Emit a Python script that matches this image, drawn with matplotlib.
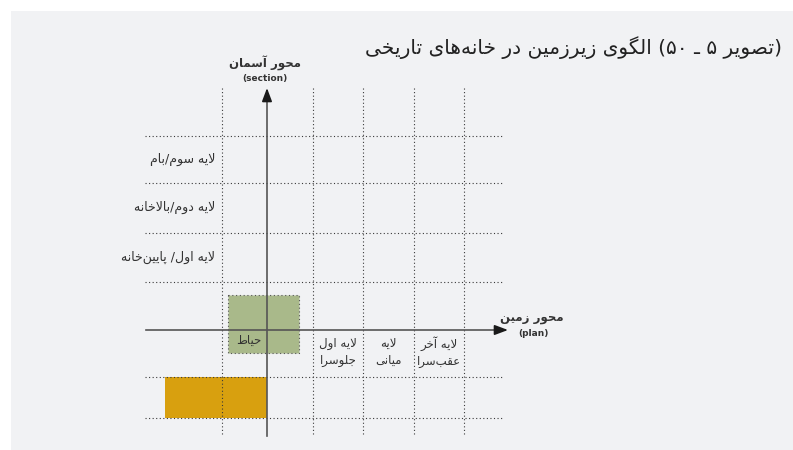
import matplotlib
matplotlib.use("Agg")
import matplotlib.pyplot as plt
from matplotlib.patches import Rectangle

# ---- diagram data (pixel coordinates of the 793x450 picture) ----
title = "(تصویر ۵ ـ ۵۰) الگوی زیرزمین در خانه\u200cهای تاریخی"
y_axis_name = "محور آسمان"
y_axis_sub = "(section)"
x_axis_name = "محور زمین"
x_axis_sub = "(plan)"

row_labels = ["لایه سوم/بام", "لایه دوم/بالاخانه", "لایه اول/ پایین\u200cخانه"]
row_label_y = [159, 207, 257]

col_labels = ["لایه اول\nجلوسرا", "لایه\nمیانی", "لایه آخر\nعقب\u200cسرا"]
col_label_x = [338, 388, 439]

grid_x = [222, 313, 363, 414, 464]
grid_y = [136, 183, 233, 282, 377, 418]
grid_x_span = [145, 502]
grid_y_span = [88, 436]

origin = [267, 330]
x_axis_span = [146, 508]
y_axis_span = [436, 88]

yard_label = "حیاط"
yard_box = [228, 295, 299, 353]       # x0, y0, x1, y1
basement_box = [165, 377, 267, 418]   # x0, y0, x1, y1

# ---- tiny persian shaper (matplotlib has no complex text layout) ----
FORMS = {
    'ء': ('\uFE80',),
    'آ': ('\uFE81', '\uFE82'), 'أ': ('\uFE83', '\uFE84'), 'ا': ('\uFE8D', '\uFE8E'),
    'ب': ('\uFE8F', '\uFE90', '\uFE91', '\uFE92'), 'ة': ('\uFE93', '\uFE94'),
    'ت': ('\uFE95', '\uFE96', '\uFE97', '\uFE98'), 'ث': ('\uFE99', '\uFE9A', '\uFE9B', '\uFE9C'),
    'ج': ('\uFE9D', '\uFE9E', '\uFE9F', '\uFEA0'), 'ح': ('\uFEA1', '\uFEA2', '\uFEA3', '\uFEA4'),
    'خ': ('\uFEA5', '\uFEA6', '\uFEA7', '\uFEA8'), 'د': ('\uFEA9', '\uFEAA'),
    'ذ': ('\uFEAB', '\uFEAC'), 'ر': ('\uFEAD', '\uFEAE'), 'ز': ('\uFEAF', '\uFEB0'),
    'س': ('\uFEB1', '\uFEB2', '\uFEB3', '\uFEB4'), 'ش': ('\uFEB5', '\uFEB6', '\uFEB7', '\uFEB8'),
    'ص': ('\uFEB9', '\uFEBA', '\uFEBB', '\uFEBC'), 'ض': ('\uFEBD', '\uFEBE', '\uFEBF', '\uFEC0'),
    'ط': ('\uFEC1', '\uFEC2', '\uFEC3', '\uFEC4'), 'ظ': ('\uFEC5', '\uFEC6', '\uFEC7', '\uFEC8'),
    'ع': ('\uFEC9', '\uFECA', '\uFECB', '\uFECC'), 'غ': ('\uFECD', '\uFECE', '\uFECF', '\uFED0'),
    'ف': ('\uFED1', '\uFED2', '\uFED3', '\uFED4'), 'ق': ('\uFED5', '\uFED6', '\uFED7', '\uFED8'),
    'ك': ('\uFED9', '\uFEDA', '\uFEDB', '\uFEDC'), 'ل': ('\uFEDD', '\uFEDE', '\uFEDF', '\uFEE0'),
    'م': ('\uFEE1', '\uFEE2', '\uFEE3', '\uFEE4'), 'ن': ('\uFEE5', '\uFEE6', '\uFEE7', '\uFEE8'),
    'ه': ('\uFEE9', '\uFEEA', '\uFEEB', '\uFEEC'), 'و': ('\uFEED', '\uFEEE'),
    'ى': ('\uFEEF', '\uFEF0'), 'ي': ('\uFEF1', '\uFEF2', '\uFEF3', '\uFEF4'),
    'پ': ('\uFB56', '\uFB57', '\uFB58', '\uFB59'), 'چ': ('\uFB7A', '\uFB7B', '\uFB7C', '\uFB7D'),
    'ژ': ('\uFB8A', '\uFB8B'), 'ک': ('\uFB8E', '\uFB8F', '\uFB90', '\uFB91'),
    'گ': ('\uFB92', '\uFB93', '\uFB94', '\uFB95'), 'ی': ('\uFBFC', '\uFBFD', '\uFBFE', '\uFBFF'),
}
LAM_ALEF = {'ا': ('\uFEFB', '\uFEFC'), 'آ': ('\uFEF5', '\uFEF6'), 'أ': ('\uFEF7', '\uFEF8')}
DIGITS = set('0123456789۰۱۲۳۴۵۶۷۸۹')


def joins_left(c):
    return c == 'ـ' or (c in FORMS and len(FORMS[c]) == 4)


def joins_right(c):
    return c == 'ـ' or (c in FORMS and len(FORMS[c]) > 1)


def shape_line(s):
    out = []
    i = 0
    while i < len(s):
        c = s[i]
        prev = s[i - 1] if i > 0 else ''
        nxt = s[i + 1] if i + 1 < len(s) else ''
        con_prev = prev != '' and joins_left(prev) and joins_right(c)
        if c == 'ل' and nxt in LAM_ALEF:
            out.append(LAM_ALEF[nxt][1 if con_prev else 0])
            i += 2
            continue
        if c in FORMS:
            f = FORMS[c]
            con_next = joins_left(c) and nxt != '' and joins_right(nxt)
            if len(f) == 4:
                if con_prev and con_next:
                    out.append(f[3])
                elif con_next:
                    out.append(f[2])
                elif con_prev:
                    out.append(f[1])
                else:
                    out.append(f[0])
            elif len(f) == 2:
                out.append(f[1] if con_prev else f[0])
            else:
                out.append(f[0])
        elif c != '\u200c':
            out.append(c)
        i += 1
    # visual order: reverse, keep digit runs left-to-right, mirror brackets
    out = out[::-1]
    res = []
    run = []
    for ch in out:
        if ch in DIGITS:
            run.append(ch)
            continue
        res.extend(run[::-1])
        run = []
        res.append({'(': ')', ')': '('}.get(ch, ch))
    res.extend(run[::-1])
    return ''.join(res)


def fa(s):
    return '\n'.join(shape_line(line) for line in s.split('\n'))


FONT = ['DejaVu Sans']
W, H = 793, 450

fig = plt.figure(figsize=(W / 100, H / 100), dpi=100)
ax = fig.add_axes([0, 0, 1, 1])
ax.set_xlim(0, W)
ax.set_ylim(H, 0)
ax.axis('off')

# panel background
ax.add_patch(Rectangle((11, 11), W - 11, H - 11, facecolor='#f1f2f4', edgecolor='none', zorder=0))

# basement and yard boxes
bx0, by0, bx1, by1 = basement_box
ax.add_patch(Rectangle((bx0, by0), bx1 - bx0, by1 - by0, facecolor='#d8a00f', edgecolor='none', zorder=1))
yx0, yy0, yx1, yy1 = yard_box
ax.add_patch(Rectangle((yx0, yy0), yx1 - yx0, yy1 - yy0, facecolor='#a9b98a', edgecolor='#555555',
                       linewidth=0.8, linestyle=(0, (1, 2.4)), zorder=1))

# dotted grid
dot = dict(color='#3a3a3a', linewidth=0.8, linestyle=(0, (1, 2.2)), zorder=2)
for gx in grid_x:
    ax.plot([gx, gx], grid_y_span, **dot)
for gy in grid_y:
    ax.plot(grid_x_span, [gy, gy], **dot)

# axes with arrows
arr = dict(arrowstyle='-|>,head_length=0.8,head_width=0.3', color='#1a1a1a', linewidth=1.2,
           shrinkA=0, shrinkB=0)
ax.plot([x_axis_span[0], x_axis_span[1] - 8], [origin[1], origin[1]], color='#555555', lw=1.2, zorder=3)
ax.plot([origin[0], origin[0]], [y_axis_span[0], y_axis_span[1] + 8], color='#555555', lw=1.2, zorder=3)
ax.annotate('', xy=(x_axis_span[1], origin[1]), xytext=(x_axis_span[1] - 9, origin[1]), arrowprops=arr, zorder=4)
ax.annotate('', xy=(origin[0], y_axis_span[1]), xytext=(origin[0], y_axis_span[1] + 9), arrowprops=arr, zorder=4)

txt = '#333333'
# title
ax.text(782, 48, fa(title), ha='right', va='center', fontsize=14.5, color='#222222', family=FONT)

# axis names
ax.text(265, 63, fa(y_axis_name), ha='center', va='center', fontsize=8.5, fontweight='bold', color=txt, family=FONT)
ax.text(265, 79, y_axis_sub, ha='center', va='center', fontsize=6.5, fontweight='bold', color=txt, family=FONT)
ax.text(532, 317, fa(x_axis_name), ha='center', va='center', fontsize=8.5, fontweight='bold', color=txt, family=FONT)
ax.text(533, 334, x_axis_sub, ha='center', va='center', fontsize=6.5, fontweight='bold', color=txt, family=FONT)

# row and column labels
for lab, y in zip(row_labels, row_label_y):
    ax.text(215, y, fa(lab), ha='right', va='center', fontsize=9, color=txt, family=FONT)
for lab, x in zip(col_labels, col_label_x):
    ax.text(x, 352, fa(lab), ha='center', va='center', fontsize=8.5, color=txt, family=FONT,
            linespacing=1.35, multialignment='center')

ax.text(249, 340, fa(yard_label), ha='center', va='center', fontsize=8.5, color=txt, family=FONT)

fig.savefig('out.png', dpi=100)
